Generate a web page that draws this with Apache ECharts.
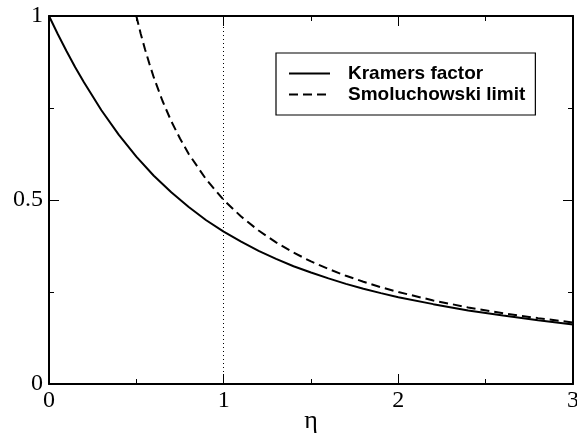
<!DOCTYPE html>
<html>
<head>
<meta charset="utf-8">
<script src="https://cdn.jsdelivr.net/npm/echarts@6/dist/echarts.min.js"></script>
<style>
html,body{margin:0;padding:0;background:#fff;}
#c{width:577px;height:434px;}
</style>
</head>
<body>
<div id="c"></div>
<script>
// Data
const etaKramers = [0, 0.05, 0.1, 0.15, 0.2, 0.3, 0.4, 0.5, 0.6, 0.7, 0.8, 0.9, 1.0, 1.1, 1.2, 1.3, 1.4, 1.5, 1.6, 1.7, 1.8, 1.9, 2.0, 2.2, 2.4, 2.6, 2.8, 3.0];
const kramersValues = [1.0, 0.951, 0.905, 0.861, 0.820, 0.744, 0.677, 0.618, 0.566, 0.521, 0.481, 0.445, 0.414, 0.387, 0.362, 0.340, 0.320, 0.303, 0.287, 0.272, 0.259, 0.247, 0.236, 0.217, 0.200, 0.186, 0.173, 0.162];
const etaSmol = [0.5, 0.525, 0.55, 0.575, 0.6, 0.65, 0.7, 0.75, 0.8, 0.9, 1.0, 1.1, 1.2, 1.3, 1.4, 1.5, 1.6, 1.7, 1.8, 1.9, 2.0, 2.2, 2.4, 2.6, 2.8, 3.0];
const smolValues = [1.0, 0.952, 0.909, 0.870, 0.833, 0.769, 0.714, 0.667, 0.625, 0.556, 0.5, 0.455, 0.417, 0.385, 0.357, 0.333, 0.3125, 0.294, 0.278, 0.263, 0.25, 0.227, 0.208, 0.192, 0.179, 0.167];
const seriesNames = ['Kramers factor', 'Smoluchowski limit'];
const refLineEta = 1;
const xLabel = 'η';

const pair = (xs, ys) => xs.map((x, i) => [x, ys[i]]);
const serif = 'Liberation Serif';
const axisCommon = {
  axisLine: { show: true, onZero: false, lineStyle: { color: '#000', width: 2 } },
  axisTick: { show: true, inside: true, length: 10, lineStyle: { color: '#000', width: 1 } },
  minorTick: { show: true, splitNumber: 2, length: 5, lineStyle: { color: '#000', width: 1 } },
  splitLine: { show: false },
  minorSplitLine: { show: false }
};

const chart = echarts.init(document.getElementById('c'));
chart.setOption({
  animation: false,
  backgroundColor: '#fff',
  grid: { left: 49, right: 4, top: 16, bottom: 50, containLabel: false, outerBoundsMode: 'none' },
  xAxis: [
    Object.assign({
      type: 'value', min: 0, max: 3, interval: 1, position: 'bottom',
      name: xLabel, nameLocation: 'middle', nameGap: 37, nameMoveOverlap: false,
      nameTextStyle: { fontFamily: serif, fontSize: 26, color: '#000', verticalAlign: 'middle' },
      axisLabel: { fontFamily: serif, fontSize: 24, color: '#000', margin: 5 }
    }, axisCommon),
    Object.assign({
      type: 'value', min: 0, max: 3, interval: 1, position: 'top',
      axisLabel: { show: false }
    }, axisCommon)
  ],
  yAxis: [
    Object.assign({
      type: 'value', min: 0, max: 1, interval: 0.5, position: 'left',
      axisLabel: { fontFamily: serif, fontSize: 24, color: '#000', margin: 6,
        formatter: v => String(v) }
    }, axisCommon),
    Object.assign({
      type: 'value', min: 0, max: 1, interval: 0.5, position: 'right',
      axisLabel: { show: false }
    }, axisCommon)
  ],
  legend: {
    orient: 'vertical',
    left: 276, top: 53,
    padding: [11, 10, 11, 12],
    itemWidth: 41, itemHeight: 16, itemGap: 2,
    borderColor: '#000', borderWidth: 1.2, backgroundColor: '#fff',
    itemStyle: { opacity: 0 },
    textStyle: { fontFamily: 'Liberation Sans', fontWeight: 'bold', fontSize: 19, color: '#000', padding: [0, 0, 0, 13] },
    data: seriesNames
  },
  series: [
    {
      name: seriesNames[0], type: 'line', showSymbol: false, symbol: 'none',
      smooth: false,
      data: pair(etaKramers, kramersValues),
      lineStyle: { color: '#000', width: 2, type: 'solid' },
      itemStyle: { color: '#000' },
      markLine: {
        silent: true, symbol: 'none', label: { show: false },
        lineStyle: { color: '#000', width: 1, type: [1, 3] },
        data: [{ xAxis: refLineEta }]
      }
    },
    {
      name: seriesNames[1], type: 'line', showSymbol: false, symbol: 'none',
      smooth: false,
      data: pair(etaSmol, smolValues),
      lineStyle: { color: '#000', width: 2, type: [9, 5] },
      itemStyle: { color: '#000' }
    }
  ]
});
</script>
</body>
</html>
